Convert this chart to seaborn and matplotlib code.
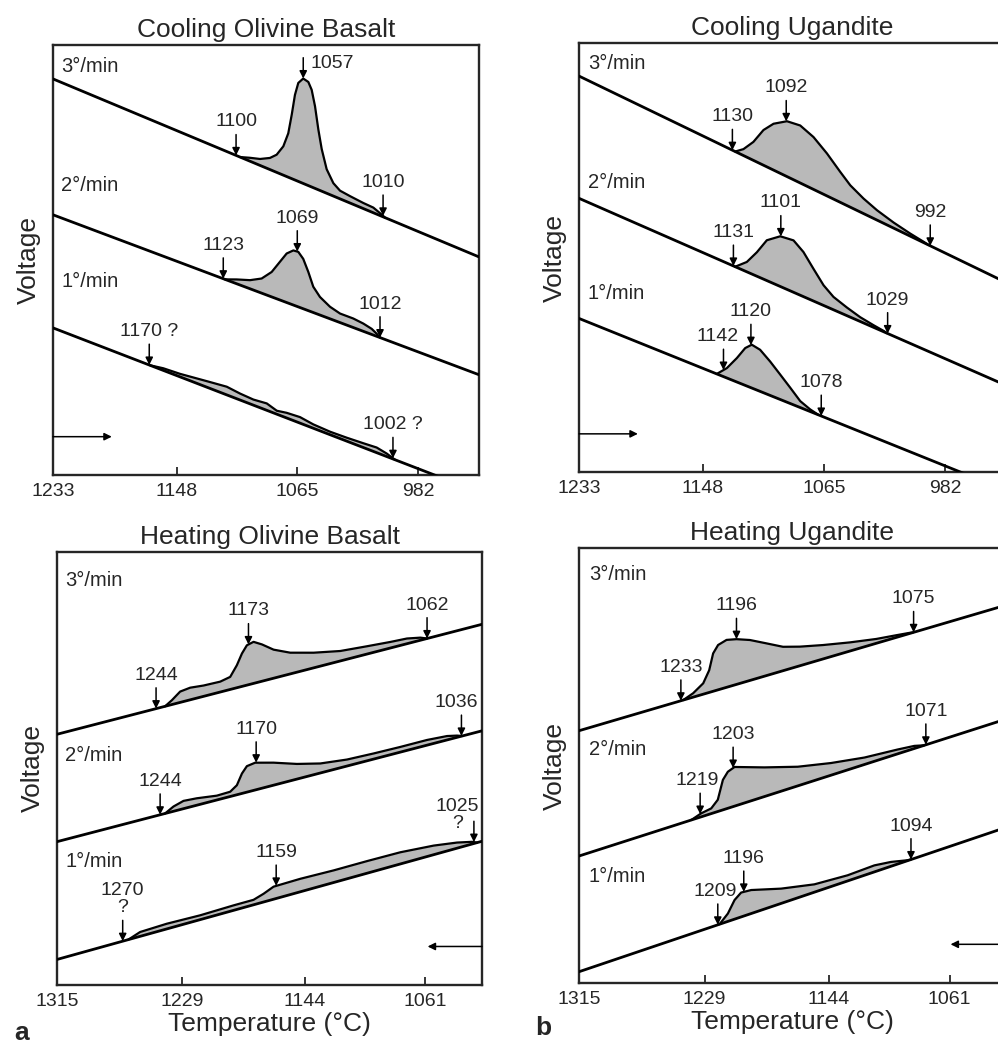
import numpy as np
import matplotlib
matplotlib.use("Agg")
import matplotlib.pyplot as plt
import seaborn as sns

sns.set_style("ticks")
plt.rcParams["font.family"] = ["Liberation Sans", "DejaVu Sans"]

rates = ["3°/min", "2°/min", "1°/min"]

# ---------------- a, top: cooling olivine basalt ----------------
cob_ticks = [1233, 1148, 1065, 982]
cob_base_left = [92.1, 60.5, 34.2]    # relative voltage at left edge (3, 2, 1 deg/min)
cob_base_right = [50.7, 23.3, -4.0]   # relative voltage at right edge

cob3_t = [1104.4, 1097.5, 1090.6, 1083.8, 1079.2, 1074.6, 1071.2, 1068.8, 1066.6, 1064.3, 1060.9, 1057.4,
          1055.1, 1052.8, 1050.5, 1048.2, 1044.8, 1040.2, 1035.6, 1028.7, 1019.6, 1012.7, 1007.0, 1004.7]
cob3_v = [0, 0.8, 1.5, 2.7, 4.1, 6.7, 10.2, 14.9, 19.8, 22.9, 24.4, 24.1,
          22.6, 19.1, 14.0, 9.8, 5.6, 3.0, 1.9, 1.6, 1.3, 1.2, 0.4, 0]
cob3_arrow_t = [1107.1, 1060.9, 1006.0]
cob3_arrow_lbl = ["1100", "1057", "1010"]

cob2_t = [1114.7, 1106.7, 1097.5, 1089.5, 1082.6, 1076.9, 1072.3, 1067.7, 1064.3, 1060.9,
          1057.4, 1054.0, 1049.4, 1042.5, 1035.6, 1026.5, 1019.6, 1013.8, 1010.4, 1008.1]
cob2_v = [0, 1.0, 2.0, 3.4, 5.8, 8.9, 11.4, 12.7, 12.8, 11.6,
          9.0, 6.0, 4.2, 2.8, 2.1, 2.1, 1.8, 1.3, 0.6, 0]
cob2_arrow_t = [1115.9, 1065.0, 1008.1]
cob2_arrow_lbl = ["1123", "1069", "1012"]

cob1_t = [1166.3, 1157.1, 1145.7, 1127.3, 1113.5, 1104.4, 1095.2, 1086.0, 1079.1,
          1072.3, 1063.1, 1054.0, 1042.5, 1031.0, 1019.6, 1010.4, 1003.5, 997.8]
cob1_v = [0, 0.5, 0.7, 1.4, 1.9, 1.5, 1.3, 1.6, 0.8, 1.2, 1.4, 0.9, 0.7, 0.8, 1.0, 1.2, 0.7, 0]
cob1_arrow_t = [1166.8, 999.2]
cob1_arrow_lbl = ["1170 ?", "1002 ?"]

# ---------------- b, top: cooling ugandite ----------------
cug_ticks = [1233, 1148, 1065, 982]
cug_base_left = [92.3, 63.8, 35.8]
cug_base_right = [44.3, 20.3, -4.2]

cug3_t = [1126.0, 1120.3, 1113.5, 1106.6, 1099.7, 1090.5, 1081.4, 1072.3, 1063.1,
          1054.0, 1047.1, 1038.0, 1028.8, 1017.4, 1006.0, 996.9, 993.4]
cug3_v = [0, 1.5, 4.3, 8.2, 10.8, 12.9, 13.4, 12.2, 9.9, 7.1, 5.1, 3.5, 2.3, 1.3, 0.6, 0.2, 0]
cug3_arrow_t = [1127.9, 1091.0, 992.3]
cug3_arrow_lbl = ["1130", "1092", "992"]

cug2_t = [1126.0, 1118.0, 1111.1, 1104.3, 1095.1, 1086.0, 1079.2, 1072.3, 1065.4,
          1058.6, 1049.4, 1040.3, 1031.2, 1024.3, 1022.0]
cug2_v = [0, 2.3, 5.6, 9.4, 11.7, 12.1, 10.4, 7.5, 4.7, 3.0, 1.9, 1.0, 0.5, 0.2, 0]
cug2_arrow_t = [1127.2, 1094.7, 1021.5]
cug2_arrow_lbl = ["1131", "1101", "1029"]

cug1_t = [1138.6, 1131.7, 1124.8, 1119.1, 1114.6, 1108.9, 1102.0, 1095.1, 1088.3, 1081.4, 1074.6, 1068.9]
cug1_v = [0, 2.3, 5.6, 8.7, 10.1, 9.7, 7.9, 5.8, 3.7, 1.5, 0.5, 0]
cug1_arrow_t = [1134.0, 1115.2, 1067.0]
cug1_arrow_lbl = ["1142", "1120", "1078"]

# ---------------- a, bottom: heating olivine basalt ----------------
hob_ticks = [1315, 1229, 1144, 1061]
hob_base_left = [57.9, 33.1, 5.9]
hob_base_right = [83.3, 58.7, 33.2]

hob3_t = [1240.5, 1235.8, 1230.1, 1223.2, 1214.0, 1202.5, 1195.6, 1191.0, 1187.5, 1184.1, 1179.5,
          1173.7, 1165.7, 1154.2, 1138.1, 1119.7, 1101.3, 1085.2, 1073.7, 1064.5, 1059.9]
hob3_v = [0, 1.0, 2.5, 2.8, 2.5, 2.4, 2.9, 5.2, 7.6, 9.2, 9.6,
          8.5, 6.6, 4.9, 3.5, 2.3, 1.8, 1.4, 1.2, 0.6, 0]
hob3_arrow_t = [1246.7, 1183.0, 1059.9]
hob3_arrow_lbl = ["1244", "1173", "1062"]

hob2_t = [1240.5, 1234.7, 1227.8, 1218.6, 1204.8, 1195.6, 1191.0, 1187.5, 1184.1, 1178.4,
          1165.7, 1149.6, 1133.5, 1115.1, 1096.7, 1078.3, 1059.9, 1046.1, 1039.2, 1035.7]
hob2_v = [0, 1.1, 1.8, 1.6, 1.0, 1.1, 2.2, 4.6, 6.0, 6.3,
          5.2, 3.5, 2.2, 1.5, 1.3, 1.2, 1.2, 0.9, 0.4, 0]
hob2_arrow_t = [1243.9, 1177.7, 1036.2]
hob2_arrow_lbl = ["1244", "1170", "1036"]

hob1_t = [1265.8, 1257.7, 1239.3, 1216.3, 1193.3, 1179.5, 1172.6, 1165.7,
          1147.3, 1124.3, 1101.3, 1078.3, 1055.3, 1039.2, 1028.8, 1025.4]
hob1_v = [0, 1.0, 1.2, 1.0, 1.15, 1.15, 1.9, 2.9, 3.0, 2.8, 2.8, 2.7, 2.1, 1.3, 0.5, 0]
hob1_arrow_t = [1269.7, 1163.9, 1027.6]
hob1_arrow_lbl = ["1270\n?", "1159", "1025\n?"]

# ---------------- b, bottom: heating ugandite ----------------
hug_ticks = [1315, 1229, 1144, 1061]
hug_base_left = [58.0, 29.2, 2.6]
hug_base_right = [86.8, 60.6, 35.7]

hug3_t = [1243.6, 1236.8, 1229.9, 1225.8, 1223.1, 1219.7, 1213.9, 1207.1, 1197.9,
          1186.5, 1175.2, 1163.7, 1147.8, 1129.5, 1111.3, 1097.5, 1088.4, 1086.2]
hug3_v = [0, 0.9, 2.5, 5.1, 8.7, 10.3, 10.9, 10.4, 9.3, 7.4, 5.5, 4.4, 3.2, 2.0, 1.0, 0.5, 0.15, 0]
hug3_arrow_t = [1245.2, 1207.1, 1085.7]
hug3_arrow_lbl = ["1233", "1196", "1075"]

hug2_t = [1238.1, 1231.3, 1224.4, 1219.9, 1216.4, 1213.0, 1208.4, 1187.9,
          1165.1, 1142.3, 1119.4, 1096.7, 1085.2, 1078.4]
hug2_v = [0, 0.8, 1.2, 2.7, 6.9, 8.4, 9.0, 6.7, 4.4, 2.8, 1.6, 1.0, 0.6, 0]
hug2_arrow_t = [1232.0, 1209.4, 1077.3]
hug2_arrow_lbl = ["1219", "1203", "1071"]

hug1_t = [1218.7, 1213.0, 1208.4, 1203.9, 1197.0, 1176.5, 1153.7, 1130.9, 1112.6, 1101.2, 1089.8, 1087.5]
hug1_v = [0, 1.8, 4.4, 5.6, 5.4, 3.4, 1.8, 1.3, 1.5, 1.0, 0.1, 0]
hug1_arrow_t = [1219.9, 1202.1, 1087.5]
hug1_arrow_lbl = ["1209", "1196", "1094"]

# ---------------- drawing ----------------
FILL = "#b9b9b9"
# label placement tweaks (offset points dx, dy, ha, va)
nudge = {
    "1057": (5, 11, "left", "center"),
    "1025\n?": (-12, 7, "center", "bottom"),
    "1036": (-4, 18, "center", "bottom"),
    "1142": (-4, 18, "center", "bottom"),
    "1209": (-2, 18, "center", "bottom"),
    "1219": (-2, 18, "center", "bottom"),
}

panels = [
    dict(rect=[0.0531, 0.5455, 0.4269, 0.4115], title="Cooling Olivine Basalt", xlim=(1233, 940),
         ticks=cob_ticks, bl=cob_base_left, br=cob_base_right, heating=False,
         rate_x=0.019, rate_y=[0.949, 0.674, 0.449],
         peaks=[(cob3_t, cob3_v, cob3_arrow_t, cob3_arrow_lbl),
                (cob2_t, cob2_v, cob2_arrow_t, cob2_arrow_lbl),
                (cob1_t, cob1_v, cob1_arrow_t, cob1_arrow_lbl)]),
    dict(rect=[0.5802, 0.5483, 0.4269, 0.4105], title="Cooling Ugandite", xlim=(1233, 941),
         ticks=cug_ticks, bl=cug_base_left, br=cug_base_right, heating=False,
         rate_x=0.021, rate_y=[0.953, 0.676, 0.417],
         peaks=[(cug3_t, cug3_v, cug3_arrow_t, cug3_arrow_lbl),
                (cug2_t, cug2_v, cug2_arrow_t, cug2_arrow_lbl),
                (cug1_t, cug1_v, cug1_arrow_t, cug1_arrow_lbl)]),
    dict(rect=[0.0571, 0.0574, 0.4259, 0.4144], title="Heating Olivine Basalt", xlim=(1315, 1022),
         ticks=hob_ticks, bl=hob_base_left, br=hob_base_right, heating=True,
         rate_x=0.019, rate_y=[0.935, 0.531, 0.285],
         peaks=[(hob3_t, hob3_v, hob3_arrow_t, hob3_arrow_lbl),
                (hob2_t, hob2_v, hob2_arrow_t, hob2_arrow_lbl),
                (hob1_t, hob1_v, hob1_arrow_t, hob1_arrow_lbl)]),
    dict(rect=[0.5802, 0.0593, 0.4269, 0.4163], title="Heating Ugandite", xlim=(1315, 1023),
         ticks=hug_ticks, bl=hug_base_left, br=hug_base_right, heating=True,
         rate_x=0.023, rate_y=[0.94, 0.536, 0.246],
         peaks=[(hug3_t, hug3_v, hug3_arrow_t, hug3_arrow_lbl),
                (hug2_t, hug2_v, hug2_arrow_t, hug2_arrow_lbl),
                (hug1_t, hug1_v, hug1_arrow_t, hug1_arrow_lbl)]),
]

fig = plt.figure(figsize=(9.98, 10.45), dpi=100)

for p in panels:
    ax = fig.add_axes(p["rect"])
    x0, x1 = p["xlim"]
    bx = [x1, x0]
    for i, (t, v, at, al) in enumerate(p["peaks"]):
        t = np.array(t)
        v = np.array(v)
        by = [p["br"][i], p["bl"][i]]
        base = np.interp(t, bx, by)
        ax.fill_between(t, base, base + v, color=FILL, lw=0, zorder=1)
        sns.lineplot(x=t, y=base + v, ax=ax, color="k", lw=1.6, sort=False, estimator=None, zorder=2)
        sns.lineplot(x=bx, y=by, ax=ax, color="k", lw=2.0, sort=False, estimator=None, zorder=3)
        for ta, lab in zip(at, al):
            y = np.interp(ta, bx, by) + np.interp(ta, t[::-1], v[::-1])
            ax.annotate("", xy=(ta, y), xytext=(0, 15), textcoords="offset points",
                        arrowprops=dict(arrowstyle="-|>", color="k", lw=1.1,
                                        shrinkA=0, shrinkB=0, mutation_scale=11), zorder=4)
            dx, dy, ha, va = nudge.get(lab, (0, 18, "center", "bottom"))
            ax.annotate(lab, xy=(ta, y), xytext=(dx, dy), textcoords="offset points",
                        ha=ha, va=va, fontsize=14, multialignment="center", linespacing=1.0)
        ax.text(p["rate_x"], p["rate_y"][i], rates[i], transform=ax.transAxes,
                ha="left", va="center", fontsize=14.5)

    # scan direction arrow
    if p["heating"]:
        ax.annotate("", xy=(0.872, 0.089), xytext=(1.0, 0.089), xycoords="axes fraction",
                    arrowprops=dict(arrowstyle="-|>", color="k", lw=1.1, shrinkA=0, shrinkB=0,
                                    mutation_scale=11))
    else:
        ax.annotate("", xy=(0.138, 0.089), xytext=(0.0, 0.089), xycoords="axes fraction",
                    arrowprops=dict(arrowstyle="-|>", color="k", lw=1.1, shrinkA=0, shrinkB=0,
                                    mutation_scale=11))

    ax.set_xlim(x0, x1)
    ax.set_ylim(0, 100)
    ax.set_xticks(p["ticks"])
    ax.set_xticklabels([str(k) for k in p["ticks"]])
    ax.set_yticks([])
    ax.tick_params(axis="x", direction="in", length=6, width=1.3, pad=6, labelsize=14,
                   bottom=True, top=False)
    for s in ax.spines.values():
        s.set_visible(True)
        s.set_linewidth(1.7)
    ax.set_title(p["title"], fontsize=19, pad=6)
    ax.set_ylabel("Voltage", fontsize=19, labelpad=9)
    if p["heating"]:
        ax.set_xlabel("Temperature (°C)", fontsize=19, labelpad=1)

fig.text(22 / 998, 1 - 1033 / 1045, "a", fontsize=19, fontweight="bold", ha="center", va="center")
fig.text(543 / 998, 1 - 1028 / 1045, "b", fontsize=19, fontweight="bold", ha="center", va="center")

fig.savefig("out.png", dpi=100)
